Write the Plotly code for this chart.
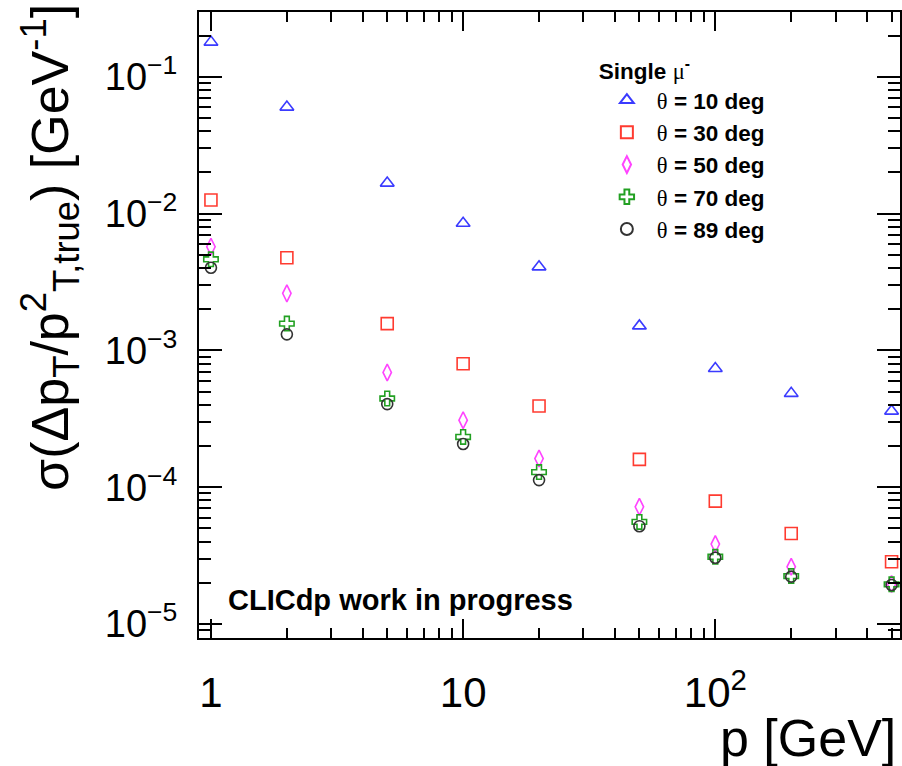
import plotly.graph_objects as go

# ---- data ----
p_gev = [1, 2, 5, 10, 20, 50, 100, 200, 500]
res_10 = [0.179, 0.060, 0.0167, 0.0085, 0.00408, 0.00151, 0.000738, 0.000485, 0.000360]
res_30 = [0.01256, 0.00475, 0.00157, 0.000798, 0.000392, 0.0001597, 0.0000791, 0.0000459, 0.0000285]
res_50 = [0.00572, 0.00261, 0.00069, 0.000309, 0.000162, 0.0000719, 0.0000384, 0.0000262, 0.0000196]
res_70 = [0.00463, 0.00157, 0.000445, 0.000233, 0.000129, 0.0000558, 0.0000310, 0.0000224, 0.0000195]
res_89 = [0.00402, 0.00131, 0.000405, 0.000207, 0.0001127, 0.0000519, 0.0000305, 0.0000222, 0.0000193]

series_names = ["10", "30", "50", "70", "89"]
series_vals = [res_10, res_30, res_50, res_70, res_89]
series_symbols = ["triangle-up-open", "square-open", "diamond-tall-open", "cross-open", "circle-open"]
series_colors = ["#3b3bff", "#ff3b30", "#ff44ff", "#22a022", "#333333"]
series_sizes = [12, 12, 12, 12, 11]

x_tickvals = [1, 10, 100]
x_ticktext = ["1", "10", "10<sup>2</sup>"]
y_tickvals = [1e-5, 1e-4, 1e-3, 1e-2, 1e-1]
y_ticktext = ["10<sup>\u22125</sup>", "10<sup>\u22124</sup>", "10<sup>\u22123</sup>",
              "10<sup>\u22122</sup>", "10<sup>\u22121</sup>"]

FONT = "Liberation Sans, Arial, Helvetica, sans-serif"
SERIF = "Liberation Serif"

fig = go.Figure()
for name, vals, sym, col, sz in zip(series_names, series_vals, series_symbols, series_colors, series_sizes):
    fig.add_trace(go.Scatter(
        x=p_gev, y=vals, mode="markers",
        name=f"<span style='font-family:{SERIF};font-weight:normal'>\u03b8</span> = {name} deg",
        legendgroup=name,
        marker=dict(symbol=sym, size=sz, color=col, line=dict(color=col, width=1.6)),
    ))

axis_common = dict(
    type="log", showline=True, linecolor="black", linewidth=2, mirror="allticks",
    ticks="inside", tickwidth=2, tickcolor="black", showgrid=False, zeroline=False,
)

fig.update_xaxes(
    **axis_common,
    range=[-0.0474, 2.7324],
    tickvals=x_tickvals, ticktext=x_ticktext, ticklen=19,
    tickfont=dict(family=FONT, size=42, color="black"),
    ticklabelstandoff=17,
    minor=dict(ticks="inside", ticklen=10, tickwidth=2, tickcolor="black", dtick="D1", showgrid=False),
)
fig.update_yaxes(
    **axis_common,
    range=[-5.102, -0.527],
    tickvals=y_tickvals, ticktext=y_ticktext, ticklen=23,
    tickfont=dict(family=FONT, size=38, color="black"),
    ticklabelstandoff=12,
    minor=dict(ticks="inside", ticklen=12, tickwidth=2, tickcolor="black", dtick="D1", showgrid=False),
)

fig.update_layout(
    width=902, height=766,
    margin=dict(l=199, r=0, t=12, b=128, pad=0),
    paper_bgcolor="white", plot_bgcolor="white",
    font=dict(family=FONT, color="black"),
    showlegend=True,
    legend=dict(
        x=(598 - 199) / 703, y=0.9398, xanchor="left", yanchor="top",
        bgcolor="rgba(0,0,0,0)", borderwidth=0,
        font=dict(family=FONT, size=22.5, color="black", weight="bold"),
        title=dict(text=f"Single <span style='font-family:{SERIF};font-weight:normal'>\u03bc</span><sup>-</sup>",
                   font=dict(family=FONT, size=22.5, color="black", weight="bold")),
        tracegroupgap=0, itemsizing="constant", itemwidth=50,
    ),
)

fig.add_annotation(
    text="CLICdp work in progress", xref="paper", yref="paper",
    x=(226 - 199) / 703, y=(638 - 600) / 626, xanchor="left", yanchor="middle",
    showarrow=False, font=dict(family=FONT, size=29, color="black", weight="bold"),
)
fig.add_annotation(
    text="p [GeV]", xref="paper", yref="paper",
    x=(900 - 199) / 703, y=(638 - 738) / 626, xanchor="right", yanchor="middle",
    showarrow=False, font=dict(family=FONT, size=52, color="black"),
)
fig.add_annotation(
    text="\u03c3(\u0394p<sub>T</sub>/p<sup>2</sup><sub>T,true</sub>) [GeV<sup>-1</sup>]",
    xref="paper", yref="paper", textangle=-90,
    x=(50 - 199) / 703, y=(638 - 2) / 626, xanchor="center", yanchor="top",
    showarrow=False, font=dict(family=FONT, size=52, color="black"),
)

fig.write_html("out.html")
